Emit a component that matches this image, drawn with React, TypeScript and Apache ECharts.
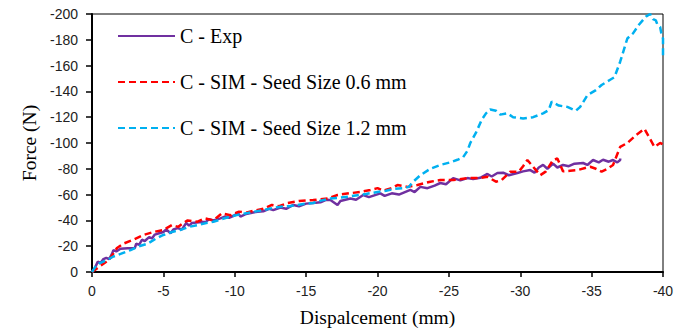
import React, { useEffect, useRef } from "react";
import * as echarts from "echarts";

const xTicks = { min: -40, max: 0, interval: 5 };
const yTicks = { min: -200, max: 0, interval: 20 };

const seriesNames = ["C - Exp", "C - SIM - Seed Size 0.6 mm", "C - SIM - Seed Size 1.2 mm"];

const expData: number[][] = [
  [0, 0], [-0.2, -3], [-0.4, -8], [-0.6, -7], [-0.8, -10], [-1.0, -11], [-1.2, -10], [-1.4, -14],
  [-1.5, -17], [-1.7, -16], [-2.0, -18], [-2.5, -18.5], [-3.0, -18.6], [-3.1, -22], [-3.3, -21],
  [-3.5, -25], [-3.7, -24], [-4.0, -27], [-4.2, -26], [-4.4, -29], [-4.7, -30], [-5.0, -31],
  [-5.2, -33], [-5.5, -30], [-5.7, -33], [-6.0, -34], [-6.3, -33], [-6.6, -38], [-6.8, -36],
  [-7.0, -38], [-7.5, -38.5], [-8.0, -39], [-8.2, -41], [-8.5, -40], [-9.0, -41.6], [-9.3, -43],
  [-9.6, -42], [-10.0, -44], [-10.2, -46], [-10.4, -43], [-10.8, -45], [-11.2, -46], [-11.6, -46.7],
  [-12.0, -47], [-12.4, -49], [-12.7, -48], [-13.2, -50], [-13.6, -49], [-14.1, -52], [-14.5, -51],
  [-15.0, -53], [-15.5, -53.5], [-16.0, -54], [-16.4, -56], [-16.7, -55.8], [-17.2, -52],
  [-17.4, -55], [-18.1, -57], [-18.5, -56], [-19.0, -59.7], [-19.4, -58], [-20.2, -61],
  [-20.5, -59], [-21.0, -61], [-21.5, -60], [-22.3, -63.6], [-22.6, -62], [-23.0, -66],
  [-23.5, -65], [-24.0, -67], [-24.4, -69], [-24.8, -68], [-25.3, -72.8], [-25.8, -71],
  [-26.3, -72.8], [-26.7, -72], [-27.2, -73], [-27.7, -76], [-28.0, -74], [-28.4, -76.7],
  [-28.8, -77], [-29.2, -75], [-29.8, -76.7], [-30.2, -78], [-30.7, -79], [-31.0, -77],
  [-31.3, -81], [-31.6, -83], [-31.9, -80], [-32.3, -84], [-32.6, -81], [-33.0, -83],
  [-33.4, -82], [-33.8, -84], [-34.4, -84.5], [-34.7, -83], [-35.1, -86.8], [-35.5, -85],
  [-35.8, -87], [-36.2, -85.5], [-36.5, -86.8], [-36.8, -85], [-37.0, -86.8], [-37.0, -88],
];

const sim06Data: number[][] = [
  [0, 0], [-0.5, -4], [-1.0, -8], [-1.3, -11], [-1.75, -18.6], [-2.2, -22], [-2.9, -25],
  [-3.6, -28.7], [-4.3, -31], [-5.0, -32.6], [-5.6, -36.4], [-6.05, -35], [-6.4, -38],
  [-6.7, -40], [-7.4, -39], [-7.9, -41.6], [-8.5, -40], [-9.1, -45.5], [-9.7, -44],
  [-10.3, -46.8], [-10.8, -46], [-11.3, -47.5], [-12.0, -49], [-12.6, -52], [-13.1, -51],
  [-13.7, -53.5], [-14.5, -55], [-15.5, -55.8], [-16.5, -57], [-17.2, -59.7], [-18.0, -61],
  [-18.8, -62], [-19.5, -63.6], [-20.0, -65], [-20.4, -63], [-21.0, -65], [-21.4, -67.4],
  [-22.1, -66], [-22.8, -67.4], [-23.7, -70], [-24.4, -71.3], [-25.3, -71.3], [-26.3, -72.8],
  [-27.2, -72.8], [-27.7, -73.9], [-28.3, -70], [-28.7, -71.3], [-29.3, -77.8], [-29.9, -77.8],
  [-30.2, -82], [-30.5, -86.8], [-30.9, -81.6], [-31.4, -75], [-31.8, -78], [-32.3, -86.8],
  [-32.6, -88], [-33.0, -78], [-33.5, -78.5], [-34.0, -79], [-34.9, -81.6], [-35.3, -80],
  [-35.7, -77.8], [-36.1, -80], [-36.5, -83], [-37.0, -97], [-37.5, -100], [-38.1, -106],
  [-38.7, -111], [-39.0, -105], [-39.4, -97], [-39.8, -100], [-40.0, -99],
];

const sim12Data: number[][] = [
  [0, 0], [-0.35, -6], [-1.0, -9], [-1.5, -12], [-2.0, -14], [-2.7, -17], [-3.3, -20],
  [-3.9, -22], [-4.5, -26], [-5.0, -28.7], [-5.6, -31], [-6.2, -32.6], [-6.8, -35],
  [-7.4, -36.4], [-8.0, -38], [-8.5, -39], [-9.1, -41], [-9.7, -43], [-10.3, -44.5],
  [-10.9, -45.7], [-11.5, -47], [-12.0, -48], [-12.6, -49.5], [-13.2, -50.6], [-13.8, -51],
  [-14.4, -52], [-15.0, -53], [-15.5, -53.5], [-16.1, -55.5], [-16.7, -57], [-17.3, -57.5],
  [-18.0, -58.5], [-18.6, -59.5], [-19.2, -60.5], [-20.0, -62], [-20.6, -63], [-21.2, -64.5],
  [-21.8, -65], [-22.2, -66], [-22.5, -70], [-23.0, -75], [-23.7, -80], [-24.4, -83],
  [-25.1, -85], [-25.6, -87], [-26.0, -89], [-26.3, -94], [-26.5, -100], [-26.9, -108],
  [-27.3, -118], [-27.6, -123], [-27.9, -126], [-28.3, -125], [-28.6, -122], [-29.1, -123],
  [-29.5, -120], [-30.2, -119], [-30.9, -120], [-31.6, -123], [-32.0, -125.6], [-32.2, -132],
  [-32.7, -129], [-33.3, -128], [-33.9, -125], [-34.2, -128], [-34.7, -137], [-35.3, -141],
  [-35.7, -145], [-36.3, -149], [-36.6, -151], [-37.0, -163], [-37.5, -181], [-37.9, -185],
  [-38.3, -191.5], [-38.8, -198], [-39.1, -200], [-39.3, -196], [-39.5, -195], [-39.6, -192],
  [-39.8, -190], [-39.9, -184], [-40.0, -181], [-40.0, -168],
];

const colors = ["#7030A0", "#FF0000", "#00B0F0"];
const serif = "Liberation Serif";
const sans = "Liberation Sans";

export default function App() {
  const ref = useRef<HTMLDivElement>(null);
  useEffect(() => {
    if (!ref.current) return;
    const chart = echarts.init(ref.current, undefined, { renderer: "svg" });
    const legendTops = [26, 72, 118];
    chart.setOption({
      animation: false,
      backgroundColor: "#fff",
      grid: {
        left: 92, right: 24, top: 14, bottom: 64,
        show: true, borderColor: "#000", borderWidth: 1, backgroundColor: "transparent",
      },
      legend: seriesNames.map((n, i) => ({
        data: [n],
        left: 117,
        top: legendTops[i],
        padding: 0,
        itemWidth: 57,
        itemHeight: 14,
        itemGap: 0,
        itemStyle: { opacity: 0 },
        textStyle: { fontFamily: serif, fontSize: 20, color: "#000", lineHeight: 20 },
      })),
      xAxis: {
        type: "value",
        min: xTicks.min, max: xTicks.max, interval: xTicks.interval,
        inverse: true,
        name: "Dispalcement (mm)",
        nameLocation: "middle",
        nameGap: 35,
        nameTextStyle: { fontFamily: serif, fontSize: 19.5, color: "#000" },
        axisLine: { onZero: false, lineStyle: { color: "#000", width: 2 } },
        axisTick: { show: true, inside: false, length: 5, lineStyle: { color: "#000", width: 1.5 } },
        axisLabel: { fontFamily: sans, fontSize: 14, color: "#222", margin: 12 },
        splitLine: { show: false },
      },
      yAxis: {
        type: "value",
        min: yTicks.min, max: yTicks.max, interval: yTicks.interval,
        inverse: true,
        name: "Force (N)",
        nameLocation: "middle",
        nameGap: 52,
        nameTextStyle: { fontFamily: serif, fontSize: 19.5, color: "#000" },
        axisLine: { onZero: false, lineStyle: { color: "#000", width: 2 } },
        axisTick: { show: true, inside: false, length: 6, lineStyle: { color: "#000", width: 1.5 } },
        axisLabel: { fontFamily: sans, fontSize: 14, color: "#222", margin: 14 },
        splitLine: { show: false },
      },
      series: [
        {
          name: seriesNames[0], type: "line", data: expData, showSymbol: false, symbol: "none",
          lineStyle: { color: colors[0], width: 2.5, type: "solid" }, itemStyle: { color: colors[0] },
        },
        {
          name: seriesNames[1], type: "line", data: sim06Data, showSymbol: false, symbol: "none",
          lineStyle: { color: colors[1], width: 2.5, type: [7, 4] }, itemStyle: { color: colors[1] },
        },
        {
          name: seriesNames[2], type: "line", data: sim12Data, showSymbol: false, symbol: "none",
          lineStyle: { color: colors[2], width: 2.5, type: [7, 4] }, itemStyle: { color: colors[2] },
        },
      ],
    });
    return () => chart.dispose();
  }, []);
  return (
    <div
      ref={ref}
      style={{ position: "fixed", left: 0, top: 0, width: 687, height: 336, background: "#fff" }}
    />
  );
}
